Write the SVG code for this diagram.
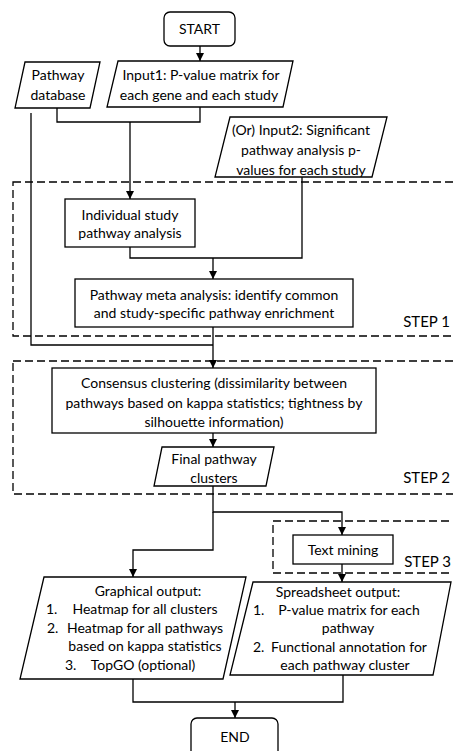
<svg xmlns="http://www.w3.org/2000/svg" width="453" height="751" viewBox="0 0 453 751">
<style>
.n{fill:#fff;stroke:#000;stroke-width:1.3}
.d{fill:none;stroke:#000;stroke-width:1.3;stroke-dasharray:8 4}
.c{fill:none;stroke:#000;stroke-width:1.3}
text{font-family:Lato,"Open Sans","Liberation Sans",sans-serif;font-size:14px;fill:#000}
.m{text-anchor:middle}
.e{text-anchor:end;font-size:15px}
</style>
<defs>
<marker id="a" markerUnits="userSpaceOnUse" markerWidth="8" markerHeight="8" viewBox="0 0 8 8" refX="8" refY="4" orient="auto">
<path d="M0,0 L8,4 L0,8 z" fill="#000"/>
</marker>
</defs>
<rect width="453" height="751" fill="#fff"/>
<g id="steps">
<rect id="step1" class="d" x="13" y="182" width="460" height="154"/>
<text class="e" x="450" y="327">STEP 1</text>
<rect id="step2" class="d" x="13" y="361" width="460" height="133"/>
<text class="e" x="450" y="483">STEP 2</text>
<rect id="step3" class="d" x="273" y="521" width="200" height="52"/>
<text class="e" x="451" y="567">STEP 3</text>
</g>
<g id="connectors">
<path class="c" d="M200,46 V61" marker-end="url(#a)"/>
<path class="c" d="M57,108 V122 H200 V107"/>
<path class="c" d="M130,122 V199" marker-end="url(#a)"/>
<path class="c" d="M31,113 V345 H213"/>
<path class="c" d="M302,177 V258 H130 V247"/>
<path class="c" d="M213,258 V279" marker-end="url(#a)"/>
<path class="c" d="M213,327 V368" marker-end="url(#a)"/>
<path class="c" d="M213,433 V447" marker-end="url(#a)"/>
<path class="c" d="M213,486 V512 H342 V535" marker-end="url(#a)"/>
<path class="c" d="M213,512 V550 H133 V577" marker-end="url(#a)"/>
<path class="c" d="M342,564 V582" marker-end="url(#a)"/>
<path class="c" d="M133,679 V702 H343 V675"/>
<path class="c" d="M235,702 V718" marker-end="url(#a)"/>
</g>
<g id="start">
<rect class="n" x="164" y="12" width="71" height="34" rx="6"/>
<text class="m" x="199.5" y="34">START</text>
</g>
<g id="pathwaydb">
<polygon class="n" points="25,62 100,62 90,108 15,108"/>
<text class="m" x="58" y="80">Pathway</text>
<text class="m" x="58" y="100">database</text>
</g>
<g id="input1">
<polygon class="n" points="118,61 293,61 283,107 107,107"/>
<text class="m" x="201" y="80">Input1: P-value matrix for</text>
<text class="m" x="199" y="100">each gene and each study</text>
</g>
<g id="input2">
<polygon class="n" points="230,117 387,117 372,177 215,177"/>
<text class="m" x="301" y="135">(Or) Input2: Significant</text>
<text class="m" x="301" y="155">pathway analysis p-</text>
<text class="m" x="301" y="175">values for each study</text>
</g>
<g id="individual">
<rect class="n" x="65" y="199" width="130" height="48"/>
<text class="m" x="130" y="220">Individual study</text>
<text class="m" x="130" y="238">pathway analysis</text>
</g>
<g id="meta">
<rect class="n" x="75" y="279" width="278" height="48"/>
<text class="m" x="214" y="300">Pathway meta analysis: identify common</text>
<text class="m" x="214" y="318">and study-specific pathway enrichment</text>
</g>
<g id="consensus">
<rect class="n" x="52" y="368" width="324" height="65"/>
<text class="m" x="214" y="388">Consensus clustering (dissimilarity between</text>
<text class="m" x="214" y="408">pathways based on kappa statistics; tightness by</text>
<text class="m" x="214" y="427">silhouette information)</text>
</g>
<g id="final">
<polygon class="n" points="162,447 274,447 266,486 154,486"/>
<text class="m" x="214" y="464">Final pathway</text>
<text class="m" x="214" y="483">clusters</text>
</g>
<g id="textmining">
<rect class="n" x="293" y="535" width="100" height="29"/>
<text class="m" x="343" y="555">Text mining</text>
</g>
<g id="graphical">
<polygon class="n" points="44,577 246,577 223,679 20,679"/>
<text class="m" x="148" y="596">Graphical output:</text>
<text x="46" y="614">1.</text>
<text class="m" x="145" y="614">Heatmap for all clusters</text>
<text x="47" y="633">2.</text>
<text class="m" x="145" y="633">Heatmap for all pathways</text>
<text class="m" x="145" y="651">based on kappa statistics</text>
<text x="65" y="670">3.</text>
<text class="m" x="143" y="670">TopGO (optional)</text>
</g>
<g id="spreadsheet">
<polygon class="n" points="253,582 451,582 433,675 230,675"/>
<text class="m" x="338" y="597">Spreadsheet output:</text>
<text x="253" y="615">1.</text>
<text class="m" x="349" y="615">P-value matrix for each</text>
<text class="m" x="348" y="633">pathway</text>
<text x="253" y="652">2.</text>
<text class="m" x="349" y="652">Functional annotation for</text>
<text class="m" x="345" y="670">each pathway cluster</text>
</g>
<g id="end">
<rect class="n" x="191" y="718" width="87" height="45" rx="6"/>
<text class="m" x="235" y="742">END</text>
</g>
</svg>
